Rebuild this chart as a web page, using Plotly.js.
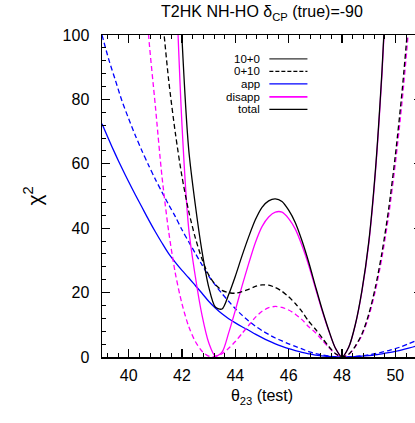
<!DOCTYPE html>
<html>
<head>
<meta charset="utf-8">
<script src="https://cdn.plot.ly/plotly-3.0.1.min.js"></script>
<style>
html,body{margin:0;padding:0;overflow:hidden;background:#fff;}
#chart{width:430px;height:423px;}
</style>
</head>
<body>
<div id="chart"></div>
<script>
// theta23 (test) grid, degrees
var theta = [39,39.25,39.5,39.75,40,40.25,40.5,40.75,41,41.25,41.5,41.75,
             42,42.25,42.5,42.75,43,43.25,43.5,43.75,44,44.25,44.5,44.75,
             45,45.25,45.5,45.75,46,46.25,46.5,46.75,47,47.25,47.5,47.75,
             48,48.25,48.5,48.75,49,49.25,49.5,49.75,50,50.25,50.5,50.75,51];

// app, 10+0 (blue solid)
var app10 = [72.4,67.6,63.0,58.6,54.4,50.4,46.5,42.6,38.9,35.4,32.1,29.4,
             26.9,24.6,22.2,19.8,17.3,15.2,13.4,11.9,10.6,9.4,8.3,7.1,
             6.0,5.0,4.1,3.3,2.6,2.0,1.45,1.0,0.6,0.35,0.15,0.04,
             0,0.03,0.1,0.25,0.45,0.7,1.0,1.35,1.75,2.2,2.75,3.35,4.0];
// app, 0+10 (blue dashed)
var app01 = [100,92.5,86.0,79.5,74.0,68.8,64.0,59.5,55.2,51.2,47.3,43.6,
             39.5,35.8,32.2,28.6,25.2,22.3,19.7,17.3,15.0,13.0,11.2,9.6,
             8.2,7.0,5.9,5.0,4.1,3.3,2.5,1.7,1.1,0.65,0.3,0.08,
             0,0.05,0.2,0.4,0.7,1.05,1.5,2.0,2.6,3.3,4.1,5.0,6.0];
// disapp, 10+0 (magenta solid)
var dis10 = [null,null,null,null,null,null,null,null,null,null,null,122,
             72,40,25,13,4.5,0.3,1.5,7.5,14.5,22,29,35.5,
             40.5,43.5,45.0,45.0,43.0,39.7,34.6,28.5,21.5,14.5,8.2,2.8,
             0,3,10,20.5,35,57,88,128,null,null,null,null,null];
// disapp, 0+10 (magenta dashed)
var dis01 = [null,null,null,null,null,null,130,99.6,78,56,39,26,
             16.5,9.5,4.8,1.8,0.3,0.2,1.0,2.7,4.8,7.3,9.8,12.3,
             14.2,15.3,15.7,15.4,14.6,13.3,11.6,9.4,7.6,5.3,3.0,1.0,
             0,0.8,3.2,6.8,12.5,20.5,31,44,60,79,102,128,157];
// total, 10+0 (black solid)
var tot10 = [null,null,null,null,null,null,null,null,null,null,null,151,
             98.9,64.6,47.2,32.8,21.8,15.5,14.9,19.4,25.1,31.4,37.3,42.6,
             46.5,48.5,49.1,48.3,45.6,41.7,36.1,29.5,22.1,14.9,8.4,2.8,
             0,3.0,10.1,20.8,35.5,57.7,89,129,null,null,null,null,null];
// total, 0+10 (black dashed)
var tot01 = [null,null,null,null,null,null,null,null,null,107,86,69.6,
             56,45.3,37.0,30.4,25.5,22.5,20.7,20.0,19.8,20.3,21.0,21.9,
             22.4,22.3,21.6,20.4,18.7,16.6,14.1,11.1,8.7,6.0,3.3,1.1,
             0,0.85,3.4,7.2,13.2,21.6,32.5,46,62.6,82.3,106,133,null];

var legendLabels = ['10+0','0+10','app','disapp','total'];

var BLUE = '#0000ff', MAG = '#ff00ff', BLK = '#000000';
var dashPat = '5px,3px';

function tr(y, color, dash, name){
  return {x: theta, y: y, type: 'scatter', mode: 'lines', name: name,
          line: {color: color, width: 1.3, dash: dash, shape: 'spline', smoothing: 0.8},
          connectgaps: false, showlegend: false, hoverinfo: 'skip'};
}

var data = [
  tr(app10, BLUE, 'solid', 'app 10+0'),
  tr(app01, BLUE, dashPat, 'app 0+10'),
  tr(dis10, MAG, 'solid', 'disapp 10+0'),
  tr(dis01, MAG, dashPat, 'disapp 0+10'),
  tr(tot01, BLK, dashPat, 'total 0+10'),
  tr(tot10, BLK, 'solid', 'total 10+0')
];

// legend (text on the left, line sample on the right)
var legColors = ['#333333', BLK, BLUE, MAG, BLK];
var legDash = ['solid', 'dash', 'solid', 'solid', 'solid'];
var legY = [0.926, 0.887, 0.848, 0.808, 0.769];
var annotations = [], shapes = [];
for (var i = 0; i < legendLabels.length; i++) {
  annotations.push({xref: 'paper', yref: 'paper', x: 0.497, y: legY[i],
    xanchor: 'right', yanchor: 'middle', text: legendLabels[i], showarrow: false,
    borderpad: 0,
    font: {family: 'Liberation Sans, Arial, sans-serif', size: 11.5, color: '#000'}});
  shapes.push({type: 'line', xref: 'paper', yref: 'paper', x0: 0.523, x1: 0.642,
    y0: legY[i], y1: legY[i],
    line: {color: legColors[i], width: (i === 3 ? 1.8 : 1.2), dash: (legDash[i] === 'dash' ? '4px,2px' : 'solid')}});
}

var fontFam = 'Liberation Sans, Arial, sans-serif';
var layout = {
  width: 430, height: 423,
  margin: {l: 102, r: 8, t: 35, b: 66, pad: 0},
  paper_bgcolor: '#fff', plot_bgcolor: '#fff',
  font: {family: fontFam, color: '#000', size: 16},
  title: {text: 'T2HK NH-HO δ<sub>CP</sub> (true)=-90', x: 0.5, xref: 'paper',
          y: 0.972, yref: 'container', yanchor: 'middle',
          font: {family: fontFam, size: 16, color: '#000'}},
  xaxis: {range: [39, 51], tickmode: 'linear', tick0: 40, dtick: 2,
          ticks: 'inside', ticklen: 8, tickwidth: 1.2, tickcolor: '#000',
          minor: {dtick: 0.4, tick0: 40, ticks: 'inside', ticklen: 4, tickwidth: 1, tickcolor: '#000'},
          showline: true, linecolor: '#000', linewidth: 1.5, mirror: 'allticks',
          showgrid: false, zeroline: false,
          tickfont: {family: fontFam, size: 16, color: '#000'},
          ticklabelstandoff: 3,
          title: {text: 'θ<sub>23</sub> (test)', standoff: 7,
                  font: {family: fontFam, size: 16, color: '#000'}}},
  yaxis: {range: [0, 100], tickmode: 'linear', tick0: 0, dtick: 20,
          ticks: 'inside', ticklen: 8, tickwidth: 1.2, tickcolor: '#000',
          minor: {dtick: 4, ticks: 'inside', ticklen: 4, tickwidth: 1, tickcolor: '#000'},
          showline: true, linecolor: '#000', linewidth: 1.5, mirror: 'allticks',
          showgrid: false, zeroline: false,
          tickfont: {family: fontFam, size: 16, color: '#000'},
          ticklabelstandoff: 8,
          title: {text: 'χ<sup>2</sup>', standoff: 14,
                  font: {family: fontFam, size: 21, color: '#000'}}},
  annotations: annotations,
  shapes: shapes
};

Plotly.newPlot('chart', data, layout, {displayModeBar: false, staticPlot: true});
</script>
</body>
</html>
